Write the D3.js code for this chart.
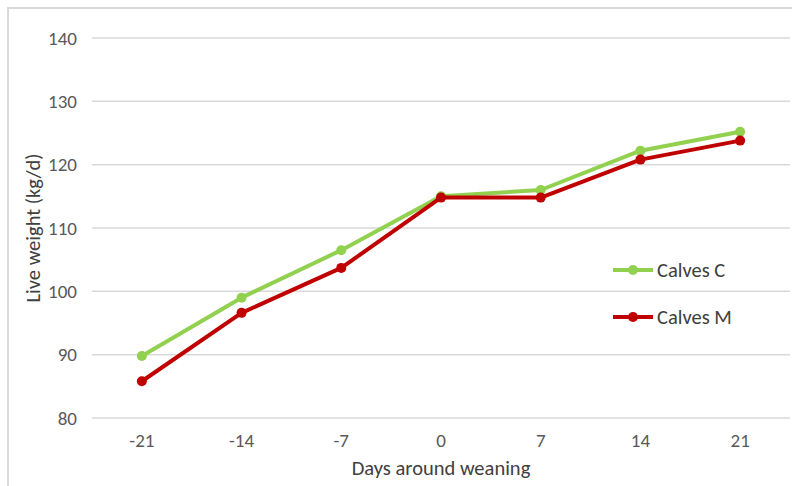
<!DOCTYPE html>
<html>
<head>
<meta charset="utf-8">
<script src="https://cdn.jsdelivr.net/npm/d3@7"></script>
<style>
  body{margin:0;background:#fff;}
  svg text{font-family:Carlito,"Liberation Sans",Arial,sans-serif;}
</style>
</head>
<body>
<script>
// data
const days=["-21","-14","-7","0","7","14","21"];
const calvesC=[89.8,99.0,106.5,115.0,116.0,122.2,125.2];
const calvesM=[85.8,96.6,103.7,114.8,114.8,120.8,123.8];
const yTicks=[80,90,100,110,120,130,140];
const seriesNames=["Calves C","Calves M"];
const seriesColors=["#92d050","#c00000"];

const W=792,H=486;
const svg=d3.select("body").append("svg").attr("width",W).attr("height",H);

// outer chart frame
svg.append("rect").attr("x",8).attr("y",8).attr("width",W).attr("height",H)
   .attr("fill","none").attr("stroke","#d9d9d9").attr("stroke-width",2);

let x=d3.scaleBand().domain(days).range([92,790]);
let y=d3.scaleLinear().domain([80,140]).range([418,38]);

// gridlines
svg.append("g").selectAll("line").data(yTicks).enter().append("line")
   .attr("x1",92).attr("x2",790)
   .attr("y1",d=>y(d)).attr("y2",d=>y(d))
   .attr("stroke","#d9d9d9").attr("stroke-width",1.5);

// y tick labels
svg.append("g").selectAll("text").data(yTicks).enter().append("text")
   .attr("x",77).attr("y",d=>y(d)).attr("dy","0.35em")
   .attr("text-anchor","end").attr("font-size",19).attr("fill","#595959")
   .text(d=>d);

// x tick labels
svg.append("g").selectAll("text").data(days).enter().append("text")
   .attr("x",d=>x(d)+x.bandwidth()/2).attr("y",447)
   .attr("text-anchor","middle").attr("font-size",19).attr("fill","#595959")
   .text(d=>d);

// axis titles
svg.append("text").attr("transform","translate(40,228) rotate(-90)")
   .attr("text-anchor","middle").attr("font-size",20.5).attr("fill","#404040")
   .text("Live weight (kg/d)");
svg.append("text").attr("x",441).attr("y",475)
   .attr("text-anchor","middle").attr("font-size",20.5).attr("fill","#404040")
   .text("Days around weaning");

let cx=(d,i)=>x(days[i])+x.bandwidth()/2;
let line=d3.line().x(cx).y(d=>y(d));

[calvesC,calvesM].forEach((s,k)=>{
    let g=svg.append("g");
    g.append("path").datum(s).attr("d",line)
     .attr("fill","none").attr("stroke",seriesColors[k]).attr("stroke-width",4)
     .attr("stroke-linejoin","round").attr("stroke-linecap","round");
    g.selectAll("circle").data(s).enter().append("circle")
     .attr("cx",cx).attr("cy",d=>y(d)).attr("r",5)
     .attr("fill",seriesColors[k]);
});

// legend
let legY=[270,317];
let leg=svg.append("g").selectAll("g").data(seriesNames).enter().append("g")
   .attr("transform",(d,i)=>"translate(613,"+legY[i]+")");
leg.append("line").attr("x1",0).attr("x2",40).attr("y1",0).attr("y2",0)
   .attr("stroke",(d,i)=>seriesColors[i]).attr("stroke-width",4);
leg.append("circle").attr("cx",20).attr("cy",0).attr("r",5)
   .attr("fill",(d,i)=>seriesColors[i]);
leg.append("text").attr("x",44).attr("y",0).attr("dy","0.35em")
   .attr("font-size",20.5).attr("fill","#404040").text(d=>d);
</script>
</body>
</html>
